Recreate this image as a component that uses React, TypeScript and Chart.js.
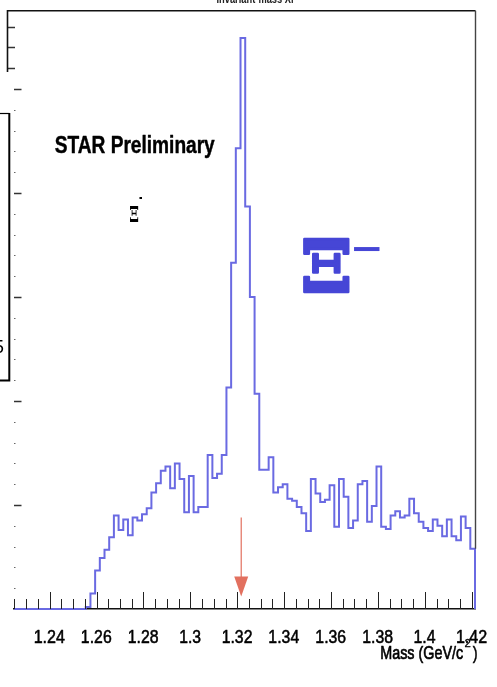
import React, { useEffect, useRef } from "react";
import { Chart, registerables } from "chart.js";

Chart.register(...registerables);

// ---- data ----
const BIN_LOW = 1.2234;
const BIN_WIDTH = 0.002;
const COUNTS = [
  0, 0, 0, 0, 0, 0, 0, 0, 0, 0, 0, 0, 0, 0, 0, 0,
  2, 15, 37, 49, 57, 69, 90, 76, 86, 71,
  88, 85, 91, 97, 112, 121, 133, 137, 116, 140,
  125, 93, 128, 93, 98, 98, 148, 126, 130, 148,
  213, 333, 443, 549, 387, 300, 207, 134, 134, 146,
  112, 117, 120, 106, 104, 98, 92, 75, 125, 111,
  103, 105, 119, 79, 125, 108, 78, 85, 120, 123,
  84, 99, 137, 79, 77, 90, 94, 88, 90, 106,
  92, 84, 78, 75, 86, 80, 70, 86, 70, 66,
  89, 78, 58,
];
const X_MIN = 1.2248;
const X_MAX = 1.4214;
const Y_MIN = 0;
const Y_MAX = 576;
const X_TICKS = [1.24, 1.26, 1.28, 1.3, 1.32, 1.34, 1.36, 1.38, 1.4, 1.42];
const X_TICK_LABELS = ["1.24", "1.26", "1.28", "1.3", "1.32", "1.34", "1.36", "1.38", "1.4", "1.42"];
const X_MINOR_STEP = 0.005;
const Y_MAJOR_STEP = 100;
const Y_MINOR_STEP = 20;
const XI_MASS = 1.3217;
const ARROW_FROM = 88;
const ARROW_TO = 12;
const X_TITLE_MAIN = "Mass (GeV/c";
const X_TITLE_SUP = "2";
const X_TITLE_END = ")";
const LABEL_STAR = "STAR Preliminary";
const TOP_TITLE = "Invariant-mass Xi";

const SANS = "'Liberation Sans', Arial, sans-serif";

function drawFit(ctx: CanvasRenderingContext2D, text: string, font: string, color: string,
  x0: number, y0: number, x1: number, y1: number, stroke = 0) {
  ctx.save();
  ctx.font = font;
  ctx.textBaseline = "alphabetic";
  ctx.textAlign = "left";
  const m = ctx.measureText(text);
  const w = m.actualBoundingBoxLeft + m.actualBoundingBoxRight;
  const h = m.actualBoundingBoxAscent + m.actualBoundingBoxDescent;
  const bx0 = x0 + stroke / 2, by0 = y0 + stroke / 2;
  const sx = (x1 - x0 - stroke) / w;
  const sy = (y1 - y0 - stroke) / h;
  ctx.translate(bx0 + m.actualBoundingBoxLeft * sx, by0 + m.actualBoundingBoxAscent * sy);
  ctx.scale(sx, sy);
  ctx.fillStyle = color;
  ctx.fillText(text, 0, 0);
  if (stroke > 0) {
    ctx.strokeStyle = color;
    ctx.lineJoin = "round";
    ctx.lineWidth = stroke / Math.sqrt(sx * sy);
    ctx.strokeText(text, 0, 0);
  }
  ctx.restore();
}

// text with given glyph top/bottom, horizontally condensed by factor, centred on cx
function drawCondensed(ctx: CanvasRenderingContext2D, text: string, font: string, color: string,
  cx: number, top: number, bottom: number, factor: number, stroke = 0) {
  ctx.save();
  ctx.font = font;
  const m = ctx.measureText(text);
  const h = m.actualBoundingBoxAscent + m.actualBoundingBoxDescent;
  const w = m.actualBoundingBoxLeft + m.actualBoundingBoxRight;
  const sy = (bottom - top) / h;
  const sx = sy * factor;
  const width = w * sx;
  ctx.restore();
  drawFit(ctx, text, font, color, cx - width / 2, top, cx + width / 2, bottom, stroke);
}

const decor = {
  id: "decor",
  afterDraw(chart: any) {
    const { ctx, chartArea: a, scales } = chart;
    const xs = scales.x;
    const ys = scales.y;
    ctx.save();

    // x ticks (inside, upward)
    ctx.strokeStyle = "#222";
    ctx.lineWidth = 1;
    const k0 = Math.ceil(X_MIN / X_MINOR_STEP - 1e-6);
    const k1 = Math.floor(X_MAX / X_MINOR_STEP + 1e-6);
    for (let k = k0; k <= k1; k++) {
      const px = Math.round(xs.getPixelForValue(k * X_MINOR_STEP)) + 0.5;
      const len = k % 4 === 0 ? 17 : 10;
      ctx.beginPath();
      ctx.moveTo(px, a.bottom);
      ctx.lineTo(px, a.bottom - len);
      ctx.stroke();
    }

    // x tick labels
    X_TICKS.forEach((v, i) => {
      drawCondensed(ctx, X_TICK_LABELS[i], `100px ${SANS}`, "#000",
        xs.getPixelForValue(v), 630, 643.3, 0.86, 0.5);
    });
    // x title
    drawFit(ctx, X_TITLE_MAIN, `100px ${SANS}`, "#000", 381, 645, 463.3, 663.3, 0.6);
    drawFit(ctx, X_TITLE_SUP, `100px ${SANS}`, "#000", 465, 640, 470.5, 647.5, 0.3);
    drawFit(ctx, X_TITLE_END, `100px ${SANS}`, "#000", 472.5, 645, 477, 663.3, 0.4);

    // y ticks
    const n = Math.floor(Y_MAX / Y_MINOR_STEP);
    for (let k = 1; k <= n; k++) {
      const v = k * Y_MINOR_STEP;
      const py = Math.round(ys.getPixelForValue(v)) + 0.5;
      ctx.beginPath();
      if (v % Y_MAJOR_STEP === 0) {
        ctx.strokeStyle = "#333";
        ctx.lineWidth = 1.5;
        ctx.moveTo(a.left, py);
        ctx.lineTo(a.left + 7.5, py);
      } else if (py < 72) {
        ctx.strokeStyle = "#333";
        ctx.lineWidth = 1.5;
        ctx.moveTo(8, py);
        ctx.lineTo(15, py);
      } else {
        ctx.strokeStyle = "#666";
        ctx.lineWidth = 1;
        ctx.moveTo(a.left, py);
        ctx.lineTo(a.left + 1.5, py);
      }
      ctx.stroke();
    }

    // frame pieces
    ctx.strokeStyle = "#111";
    ctx.lineWidth = 1.6;
    ctx.beginPath();
    ctx.moveTo(7.5, 72);
    ctx.lineTo(7.5, 10.8);
    ctx.lineTo(a.right + 0.5, 10.8);
    ctx.stroke();
    ctx.strokeStyle = "#444";
    ctx.lineWidth = 1.4;
    ctx.beginPath();
    ctx.moveTo(a.right + 0.5, 10.8);
    ctx.lineTo(a.right + 0.5, ys.getPixelForValue(COUNTS[COUNTS.length - 1]));
    ctx.stroke();

    // left partial box
    ctx.strokeStyle = "#000";
    ctx.lineWidth = 1.2;
    ctx.beginPath();
    ctx.moveTo(0, 113.5);
    ctx.lineTo(9.5, 113.5);
    ctx.stroke();
    ctx.lineWidth = 2;
    ctx.beginPath();
    ctx.moveTo(9.3, 113);
    ctx.lineTo(9.3, 381);
    ctx.moveTo(0, 380.5);
    ctx.lineTo(10.3, 380.5);
    ctx.stroke();
    drawFit(ctx, "5", `100px ${SANS}`, "#000", -5.5, 340, 3.3, 352.7);

    // arrow
    const ax = xs.getPixelForValue(XI_MASS);
    const ay0 = ys.getPixelForValue(ARROW_FROM);
    const ay1 = ys.getPixelForValue(ARROW_TO);
    ctx.strokeStyle = "#e2705f";
    ctx.lineWidth = 1.2;
    ctx.beginPath();
    ctx.moveTo(ax, ay0);
    ctx.lineTo(ax, ay1 - 18);
    ctx.stroke();
    ctx.fillStyle = "#e2705f";
    ctx.beginPath();
    ctx.moveTo(ax - 7, ay1 - 20);
    ctx.lineTo(ax + 7, ay1 - 20);
    ctx.lineTo(ax, ay1);
    ctx.closePath();
    ctx.fill();

    // texts
    drawFit(ctx, LABEL_STAR, `bold 100px ${SANS}`, "#000", 55, 135, 215, 158.5, 0.4);
    drawFit(ctx, "Ξ", "bold 100px 'DejaVu Serif', serif", "#000", 130, 205, 138.3, 221.7);
    drawFit(ctx, "-", "bold 100px 'DejaVu Sans', sans-serif", "#000", 139.3, 197.5, 142, 199.5);
    drawFit(ctx, "Ξ", "bold 100px 'DejaVu Serif', serif", "#4646d6", 302.7, 237, 350, 293, 2.5);
    drawFit(ctx, "−", "bold 100px 'DejaVu Sans', sans-serif", "#4646d6", 354, 246.7, 380, 251.2);
    drawFit(ctx, TOP_TITLE, `bold 100px ${SANS}`, "#222", 217, -6, 293, 3);

    ctx.restore();
  },
};

export default function App() {
  const ref = useRef<HTMLCanvasElement | null>(null);
  useEffect(() => {
    if (!ref.current) return;
    const data = COUNTS.map((c, i) => ({ x: BIN_LOW + i * BIN_WIDTH, y: c }));
    data.push({ x: BIN_LOW + COUNTS.length * BIN_WIDTH, y: 0 });
    const chart = new Chart(ref.current, {
      type: "line",
      data: {
        datasets: [
          {
            data,
            stepped: true,
            borderColor: "#6a6ae2",
            borderWidth: 2,
            pointRadius: 0,
            fill: false,
            clip: { left: 0, top: 0, right: 2, bottom: 2 } as any,
          },
        ],
      },
      options: {
        animation: false,
        responsive: true,
        maintainAspectRatio: false,
        layout: { padding: { left: 14, right: 22, top: 10, bottom: 0 } },
        plugins: { legend: { display: false }, tooltip: { enabled: false }, title: { display: false } },
        scales: {
          x: {
            type: "linear",
            min: X_MIN,
            max: X_MAX,
            grid: { display: false, drawTicks: false },
            border: { display: true, color: "#111", width: 1.5 },
            ticks: { display: false },
            afterFit: (s: any) => {
              s.height = 78;
              s.paddingLeft = 0;
              s.paddingRight = 0;
            },
          },
          y: { type: "linear", display: false, min: Y_MIN, max: Y_MAX },
        },
      },
      plugins: [decor],
    });
    return () => chart.destroy();
  }, []);
  return (
    <div style={{ position: "absolute", left: 0, top: 0, width: 497, height: 687, background: "#fff" }}>
      <canvas ref={ref} />
    </div>
  );
}
